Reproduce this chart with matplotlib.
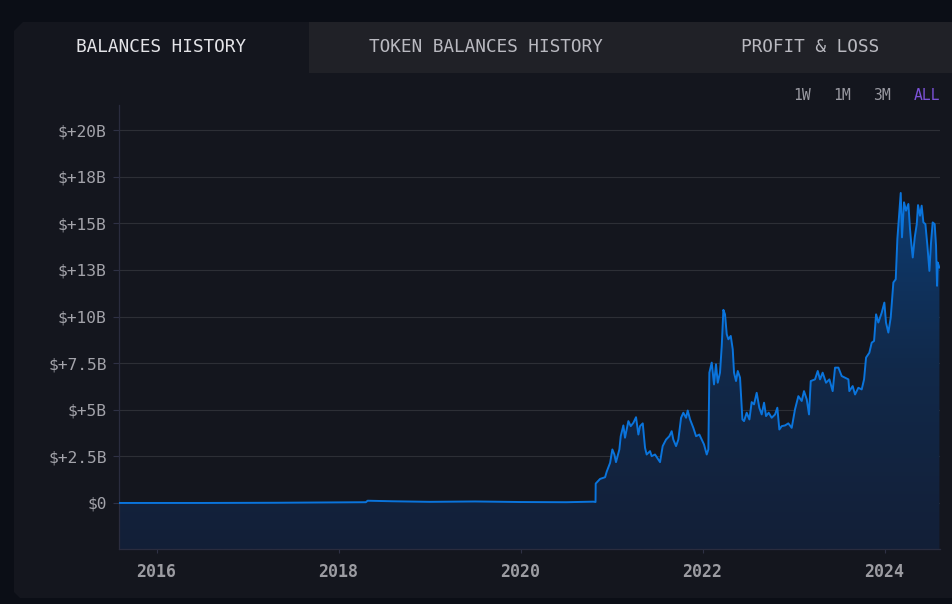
import matplotlib
matplotlib.use("Agg")
import matplotlib.pyplot as plt
import numpy as np
from matplotlib.patches import Polygon, Rectangle
from matplotlib.colors import LinearSegmentedColormap

# ---------------- data ----------------
years = [2015.582, 2016.5, 2017.3, 2017.9, 2018.30, 2018.32, 2018.6, 2019.0, 2019.5,
         2020.0, 2020.5, 2020.80, 2020.824,
         2020.826, 2020.874, 2020.929, 2020.947, 2020.984, 2021.009, 2021.031, 2021.049,
         2021.086, 2021.101, 2021.130, 2021.148, 2021.185, 2021.211, 2021.240, 2021.269,
         2021.295, 2021.313, 2021.343, 2021.368, 2021.386, 2021.423, 2021.441, 2021.478,
         2021.533, 2021.562, 2021.599, 2021.635, 2021.661, 2021.679, 2021.709, 2021.734,
         2021.764, 2021.789, 2021.819, 2021.837, 2021.863, 2021.899, 2021.929, 2021.965,
         2021.991, 2022.016, 2022.046, 2022.064, 2022.075, 2022.101, 2022.126, 2022.148,
         2022.167, 2022.192, 2022.211, 2022.229, 2022.247, 2022.266, 2022.284, 2022.310,
         2022.332, 2022.346, 2022.368, 2022.387, 2022.412, 2022.438, 2022.456, 2022.485,
         2022.515, 2022.540, 2022.566, 2022.595, 2022.624, 2022.650, 2022.676, 2022.698,
         2022.727, 2022.760, 2022.797, 2022.822, 2022.844, 2022.870, 2022.907, 2022.943,
         2022.980, 2023.016, 2023.053, 2023.090, 2023.115, 2023.145, 2023.170, 2023.189,
         2023.236, 2023.266, 2023.291, 2023.320, 2023.357, 2023.394, 2023.430, 2023.456,
         2023.493, 2023.529, 2023.566, 2023.603, 2023.613, 2023.650, 2023.676, 2023.712,
         2023.749, 2023.775, 2023.797, 2023.833, 2023.859, 2023.885, 2023.907, 2023.932,
         2023.969, 2023.998, 2024.016, 2024.042, 2024.068, 2024.097, 2024.123, 2024.141,
         2024.163, 2024.178, 2024.192, 2024.214, 2024.236, 2024.262, 2024.280, 2024.291,
         2024.310, 2024.332, 2024.354, 2024.368, 2024.390, 2024.408, 2024.427, 2024.449,
         2024.471, 2024.493, 2024.511, 2024.529, 2024.551, 2024.566, 2024.577, 2024.584,
         2024.603]
balance_b = [0.0, 0.0, 0.01, 0.03, 0.04, 0.12, 0.09, 0.06, 0.08,
             0.05, 0.04, 0.07, 0.05,
             1.04, 1.29, 1.38, 1.68, 2.15, 2.87, 2.60, 2.19,
             2.87, 3.58, 4.16, 3.50, 4.39, 4.12, 4.30, 4.60,
             3.67, 4.12, 4.27, 2.96, 2.60, 2.78, 2.51, 2.60,
             2.19, 3.05, 3.40, 3.58, 3.85, 3.40, 3.05, 3.40,
             4.57, 4.84, 4.57, 4.96, 4.48, 4.03, 3.58, 3.67,
             3.40, 3.14, 2.60, 2.87, 6.99, 7.53, 6.36, 7.44,
             6.45, 6.99, 8.42, 10.36, 10.12, 9.05, 8.78, 8.96,
             8.24, 6.99, 6.54, 7.08, 6.72, 4.48, 4.39, 4.84,
             4.48, 5.41, 5.29, 5.91, 5.11, 4.75, 5.38, 4.66,
             4.84, 4.57, 4.75, 5.11, 3.94, 4.12, 4.16, 4.27,
             4.03, 5.02, 5.73, 5.47, 6.00, 5.56, 4.75, 6.54,
             6.63, 7.08, 6.63, 6.99, 6.45, 6.63, 6.00, 7.26,
             7.26, 6.81, 6.72, 6.63, 6.00, 6.27, 5.82, 6.18,
             6.09, 6.63, 7.80, 8.06, 8.60, 8.69, 10.12, 9.68,
             10.21, 10.75, 9.68, 9.14, 9.95, 11.83, 12.00, 14.16,
             15.59, 16.63, 14.25, 16.13, 15.68, 16.04, 14.69, 14.07,
             13.17, 14.25, 14.96, 15.98, 15.41, 15.95, 15.05, 14.96,
             13.80, 12.45, 13.98, 15.05, 14.96, 13.80, 11.65, 12.90,
             12.63]

y_ticks = [0, 2.5, 5, 7.5, 10, 12.5, 15, 17.5, 20]
y_tick_labels = ["$0", "$+2.5B", "$+5B", "$+7.5B", "$+10B", "$+13B", "$+15B", "$+18B", "$+20B"]
x_ticks = [2016, 2018, 2020, 2022, 2024]
x_tick_labels = ["2016", "2018", "2020", "2022", "2024"]
tabs = ["BALANCES HISTORY", "TOKEN BALANCES HISTORY", "PROFIT & LOSS"]
ranges = ["1W", "1M", "3M", "ALL"]

# ---------------- figure ----------------
W, H = 952, 604
MONO = ["DejaVu Sans Mono"]
fig = plt.figure(figsize=(W / 100, H / 100), dpi=100, facecolor="#0b0e16")

def fx(x):
    return x / W

def fy(y):
    return 1 - y / H

card = Polygon([(fx(14), fy(31)), (fx(23), fy(22)), (fx(952), fy(22)), (fx(952), fy(598)),
                (fx(20), fy(598)), (fx(14), fy(592))], closed=True,
               transform=fig.transFigure, facecolor="#14161e", edgecolor="none", zorder=-3)
fig.patches.append(card)
tab_bg = Rectangle((fx(309), fy(73)), fx(952) - fx(309), fy(22) - fy(73),
                   transform=fig.transFigure, facecolor="#202127", edgecolor="none", zorder=-2)
fig.patches.append(tab_bg)

tab_x = [161.5, 486, 810.5]
tab_colors = ["#e4e4e8", "#b9b9c0", "#b9b9c0"]
for t, x, c in zip(tabs, tab_x, tab_colors):
    fig.text(fx(x), fy(47.5), t, ha="center", va="center", color=c, fontsize=12.8, family=MONO)

range_x = [802, 842, 881.7, 926.7]
range_colors = ["#9a9aa2", "#9a9aa2", "#9a9aa2", "#7c52d8"]
for t, x, c in zip(ranges, range_x, range_colors):
    fig.text(fx(x), fy(95.5), t, ha="center", va="center", color=c, fontsize=10.6, family=MONO)

# ---------------- axes ----------------
ax = fig.add_axes([fx(118.5), fy(549), fx(939.5) - fx(118.5), fy(105) - fy(549)])
ax.set_facecolor("none")
x0, x1 = 2015.582, 2024.604
ybot, ytop = -2.47, 21.35
ax.set_xlim(x0, x1)
ax.set_ylim(ybot, ytop)

xs = np.array(years)
vs = np.array(balance_b)

poly = ax.fill_between(xs, vs, ybot, facecolor="none", edgecolor="none")
clip = poly.get_paths()[0]
cmap = LinearSegmentedColormap.from_list("g", ["#131f37", "#11294a", "#0d3c72"])
grad = np.linspace(0, 1, 256).reshape(-1, 1)
im = ax.imshow(grad, extent=[x0, x1, ybot, 17.0], origin="lower", aspect="auto",
               cmap=cmap, zorder=1, interpolation="bilinear")
im.set_clip_path(clip, transform=ax.transData)
ax.plot(xs, vs, color="#0a74dc", lw=1.4, zorder=3, solid_joinstyle="round")
ax.set_xlim(x0, x1)
ax.set_ylim(ybot, ytop)

ax.set_yticks(y_ticks)
ax.set_yticklabels(y_tick_labels)
ax.set_xticks(x_ticks)
ax.set_xticklabels(x_tick_labels)
ax.grid(axis="y", color="#2d2f36", lw=0.8, zorder=0)
ax.set_axisbelow(True)

for s in ["top", "right"]:
    ax.spines[s].set_visible(False)
for s in ["left", "bottom"]:
    ax.spines[s].set_color("#2a2c3e")
    ax.spines[s].set_linewidth(0.9)

ax.tick_params(axis="y", colors="#2f3145", labelcolor="#a3a3aa", length=4.3, width=0.8,
               pad=4.3, labelsize=11.7)
ax.tick_params(axis="x", colors="#2f3145", labelcolor="#9c9ca2", length=3, width=0.8,
               pad=7, labelsize=12)
for lab in ax.get_yticklabels():
    lab.set_family(MONO)
for lab in ax.get_xticklabels():
    lab.set_family(MONO)
    lab.set_fontweight("bold")

fig.savefig("out.png", dpi=100, facecolor=fig.get_facecolor())
